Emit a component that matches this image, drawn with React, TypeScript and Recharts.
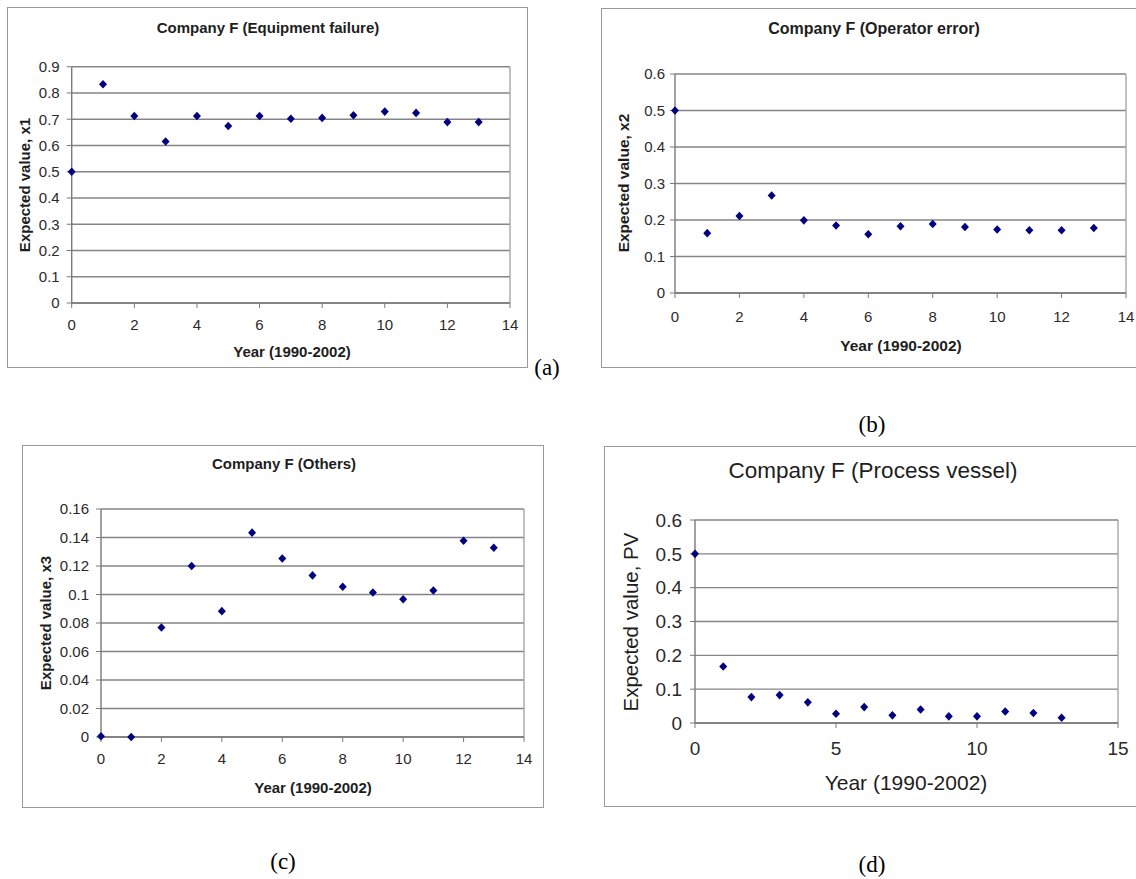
import { ScatterChart, Scatter, XAxis, YAxis, CartesianGrid, ReferenceLine } from "recharts";

const years = [0, 1, 2, 3, 4, 5, 6, 7, 8, 9, 10, 11, 12, 13];
const equipmentFailure = [0.5, 0.833, 0.712, 0.615, 0.712, 0.674, 0.712, 0.702, 0.705, 0.715, 0.729, 0.724, 0.689, 0.689];
const operatorError = [0.5, 0.164, 0.211, 0.267, 0.199, 0.185, 0.161, 0.183, 0.189, 0.181, 0.174, 0.172, 0.172, 0.178];
const others = [0.0005, 0, 0.0768, 0.12, 0.0883, 0.1434, 0.1253, 0.1134, 0.1054, 0.1014, 0.0967, 0.1028, 0.1377, 0.1328];
const processVessel = [0.5, 0.167, 0.0766, 0.0825, 0.061, 0.0275, 0.047, 0.0226, 0.04, 0.0196, 0.0196, 0.034, 0.0295, 0.0157];

const xTicks14 = [0, 2, 4, 6, 8, 10, 12, 14];
const xTicks15 = [0, 5, 10, 15];
const yTicks09 = [0, 0.1, 0.2, 0.3, 0.4, 0.5, 0.6, 0.7, 0.8, 0.9];
const yTicks06 = [0, 0.1, 0.2, 0.3, 0.4, 0.5, 0.6];
const yTicks016 = [0, 0.02, 0.04, 0.06, 0.08, 0.1, 0.12, 0.14, 0.16];

const SANS = "'Liberation Sans', Arial, sans-serif";
const SERIF = "'Liberation Serif', 'Times New Roman', serif";

const toPoints = (vals: number[]) => years.map((x, i) => ({ x, y: vals[i] }));

// excel-style diamond marker
const Diamond = (props: any) => {
  const { cx, cy } = props;
  if (cx == null || cy == null) return null;
  const w = 4, h = 4.3;
  return (
    <polygon
      points={`${cx},${cy - h} ${cx + w},${cy} ${cx},${cy + h} ${cx - w},${cy}`}
      fill="#000080"
    />
  );
};

const panels = [
  {
    key: "a",
    title: "Company F (Equipment failure)",
    yTitle: "Expected value, x1",
    values: equipmentFailure,
    xTicks: xTicks14,
    yTicks: yTicks09,
    frame: { l: 7, t: 7, r: 528, b: 368 },
    plot: { l: 71.7, t: 66.7, r: 510, b: 303 },
    titlePos: [268, 27],
    xTitlePos: [292, 351],
    yTitlePos: [24, 185],
    sub: "(a)",
    subPos: [547, 367],
    bold: true,
    titleSize: 15,
    axisTitleSize: 15,
    yTitleSize: 15,
    tickSize: 15,
    tickMarginY: 7,
    tickMarginX: 11.5,
  },
  {
    key: "b",
    title: "Company F (Operator error)",
    yTitle: "Expected value, x2",
    values: operatorError,
    xTicks: xTicks14,
    yTicks: yTicks06,
    frame: { l: 601, t: 8, r: 1140, b: 368 },
    plot: { l: 675, t: 74, r: 1126, b: 293 },
    titlePos: [874, 29],
    xTitlePos: [901, 346],
    yTitlePos: [624, 183],
    sub: "(b)",
    subPos: [872, 424],
    bold: true,
    titleSize: 16,
    axisTitleSize: 15.5,
    yTitleSize: 15.5,
    tickSize: 15,
    tickMarginY: 5,
    tickMarginX: 13.5,
  },
  {
    key: "c",
    title: "Company F (Others)",
    yTitle: "Expected value, x3",
    values: others,
    xTicks: xTicks14,
    yTicks: yTicks016,
    frame: { l: 22, t: 445, r: 544, b: 808 },
    plot: { l: 101, t: 509, r: 524, b: 737 },
    titlePos: [284, 463],
    xTitlePos: [313, 787],
    yTitlePos: [45, 623],
    sub: "(c)",
    subPos: [283, 861],
    bold: true,
    titleSize: 15,
    axisTitleSize: 15,
    yTitleSize: 15,
    tickSize: 15,
    tickMarginY: 7,
    tickMarginX: 11.5,
  },
  {
    key: "d",
    title: "Company F (Process vessel)",
    yTitle: "Expected value, PV",
    values: processVessel,
    xTicks: xTicks15,
    yTicks: yTicks06,
    frame: { l: 604, t: 446, r: 1140, b: 807 },
    plot: { l: 695, t: 520, r: 1118, b: 723 },
    titlePos: [873, 471],
    xTitlePos: [906, 782],
    yTitlePos: [631, 622],
    sub: "(d)",
    subPos: [872, 864],
    bold: false,
    titleSize: 22.5,
    axisTitleSize: 21,
    yTitleSize: 20.5,
    tickSize: 19,
    tickMarginY: 8,
    tickMarginX: 13.5,
  },
];

const abs = (x: number, y: number, extra: any = {}) => ({
  position: "absolute" as const,
  left: x,
  top: y,
  transform: "translate(-50%, -50%)",
  whiteSpace: "nowrap" as const,
  lineHeight: 1,
  ...extra,
});

function Panel({ p }: { p: (typeof panels)[number] }) {
  const fw = p.frame.r - p.frame.l;
  const fh = p.frame.b - p.frame.t;
  const yW = 60;
  const xH = 40;
  const margin = {
    top: p.plot.t - p.frame.t,
    right: p.frame.r - p.plot.r,
    left: p.plot.l - p.frame.l - yW,
    bottom: p.frame.b - p.plot.b - xH,
  };
  const xMax = p.xTicks[p.xTicks.length - 1];
  const yMax = p.yTicks[p.yTicks.length - 1];
  const tick = { fontSize: p.tickSize, fill: "#2a2a2a", fontFamily: SANS };
  const weight = p.bold ? "bold" : "normal";
  return (
    <>
      <div
        style={{
          position: "absolute",
          left: p.frame.l,
          top: p.frame.t,
          width: fw,
          height: fh,
          border: "1.5px solid #9a9a9a",
          boxSizing: "border-box",
        }}
      />
      <div style={{ position: "absolute", left: p.frame.l, top: p.frame.t }}>
        <ScatterChart width={fw} height={fh} margin={margin}>
          <CartesianGrid vertical={false} stroke="#858585" strokeWidth={1.4} />
          <ReferenceLine x={xMax} stroke="#a6a6a6" strokeWidth={1.4} />
          <XAxis
            type="number"
            dataKey="x"
            domain={[0, xMax]}
            ticks={p.xTicks}
            interval={0}
            height={xH}
            tick={tick}
            tickSize={5}
            tickMargin={p.tickMarginX}
            axisLine={{ stroke: "#7a7a7a", strokeWidth: 1.4 }}
            tickLine={{ stroke: "#7a7a7a" }}
          />
          <YAxis
            type="number"
            dataKey="y"
            domain={[0, yMax]}
            ticks={p.yTicks}
            interval={0}
            width={yW}
            tick={tick}
            tickSize={5}
            tickMargin={p.tickMarginY}
            axisLine={{ stroke: "#7a7a7a", strokeWidth: 1.4 }}
            tickLine={{ stroke: "#7a7a7a" }}
          />
          <Scatter data={toPoints(p.values)} fill="#000080" shape={Diamond} isAnimationActive={false} />
        </ScatterChart>
      </div>
      <div style={abs(p.titlePos[0], p.titlePos[1], { fontFamily: SANS, fontSize: p.titleSize, fontWeight: weight, color: "#1e1e1e" })}>
        {p.title}
      </div>
      <div style={abs(p.xTitlePos[0], p.xTitlePos[1], { fontFamily: SANS, fontSize: p.axisTitleSize, fontWeight: weight, color: "#1e1e1e" })}>
        Year (1990-2002)
      </div>
      <div
        style={abs(p.yTitlePos[0], p.yTitlePos[1], {
          fontFamily: SANS,
          fontSize: p.yTitleSize,
          fontWeight: weight,
          color: "#1e1e1e",
          transform: "translate(-50%, -50%) rotate(-90deg)",
        })}
      >
        {p.yTitle}
      </div>
      <div style={abs(p.subPos[0], p.subPos[1], { fontFamily: SERIF, fontSize: 23, color: "#000" })}>{p.sub}</div>
    </>
  );
}

export default function App() {
  return (
    <div
      style={{
        position: "absolute",
        left: 0,
        top: 0,
        width: 1136,
        height: 879,
        overflow: "hidden",
        background: "#fff",
      }}
    >
      {panels.map((p) => (
        <Panel key={p.key} p={p} />
      ))}
    </div>
  );
}
